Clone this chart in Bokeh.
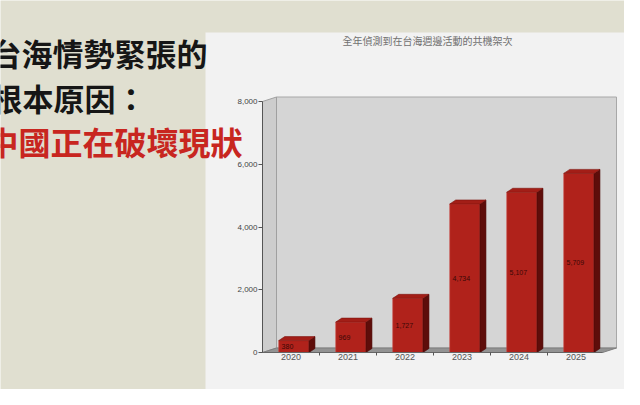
from bokeh.plotting import figure
from bokeh.models import Range1d, FixedTicker, LinearAxis, Label, BoxAnnotation
from bokeh.embed import file_html
from bokeh.resources import INLINE
from bokeh.core.properties import value

# ---- data ----
years = ["2020", "2021", "2022", "2023", "2024", "2025"]
sorties = [380, 969, 1727, 4734, 5107, 5709]
value_labels = ["380", "969", "1,727", "4,734", "5,107", "5,709"]
y_ticks = [0, 2000, 4000, 6000, 8000]
headline = ["台海情勢緊張的", "根本原因：", "中國正在破壞現狀"]
chart_title = "全年偵測到在台海週邊活動的共機架次"

# ---- geometry / style ----
W, H = 624, 389
AX0X, AX0Y = 262, 352               # canvas px of the chart origin
PXX = 57.0                          # px per category
PXY = 31.375 / 1000.0               # px per unit value
BEIGE = "#E0DFD0"
PANEL = "#F2F2F2"
RED = "#C8261F"

p = figure(width=W, height=H, output_backend="svg", toolbar_location=None,
           x_range=Range1d(-0.5 - AX0X / PXX, -0.5 + (W - AX0X) / PXX),
           y_range=Range1d(-(H - AX0Y) / PXY, AX0Y / PXY),
           x_axis_location=None, y_axis_location=None,
           min_border=0, border_fill_color=BEIGE, background_fill_color=BEIGE,
           outline_line_color=None)
p.xgrid.visible = False
p.ygrid.visible = False

# light slide panel
p.add_layout(BoxAnnotation(left=205, right=W + 10, bottom=-10, top=H - 32,
                           left_units="screen", right_units="screen",
                           bottom_units="screen", top_units="screen",
                           fill_color=PANEL, fill_alpha=1, line_color=None, level="underlay"))

# 3D walls
DX = 14 / PXX
DY = 4.5 / PXY
wall_right = (616 - AX0X) / PXX - 0.5
ymax = y_ticks[-1]
p.quad(left=[-0.5 + DX], right=[wall_right], bottom=[DY], top=[ymax + DY],
       fill_color="#D5D5D5", line_color="#A8A8A8", line_width=1)
p.patch([-0.5, -0.5 + DX, -0.5 + DX, -0.5], [0, DY, ymax + DY, ymax],
        fill_color="#CDCDCD", line_color="#A0A0A0", line_width=1)
p.patch([-0.5, wall_right - DX, wall_right, -0.5 + DX], [0, 0, DY, DY],
        fill_color="#939393", line_color="#7E7E7E", line_width=1)

# bars
BW, OFF = 0.53, 0.05
bdx, bdy = 6 / PXX, 4 / PXY
xs_c = list(range(len(years)))
lefts = [i + OFF - BW / 2 for i in xs_c]
rights = [i + OFF + BW / 2 for i in xs_c]
p.quad(left=lefts, right=rights, bottom=0, top=sorties,
       fill_color="#B0221B", line_color="#C8483F", line_width=0.6)
p.patches([[r, r + bdx, r + bdx, r] for r in rights],
          [[0, bdy, v + bdy, v] for v in sorties],
          fill_color="#5E0D0A", line_color="#4A0806", line_width=0.6)
p.patches([[l, r, r + bdx, l + bdx] for l, r in zip(lefts, rights)],
          [[v, v, v + bdy, v + bdy] for v in sorties],
          fill_color="#A31E17", line_color="#7E140F", line_width=0.6)
p.text(x=[l + 0.05 for l in lefts], y=[v / 2 for v in sorties], text=value_labels,
       text_align="left", text_baseline="middle", text_font_size="7px",
       text_font=value("Liberation Sans"), text_color="#3A0806")

# axes (drawn at the chart origin inside the slide)
yax = LinearAxis(fixed_location=-0.5, ticker=FixedTicker(ticks=[], minor_ticks=y_ticks),
                 bounds=(0, ymax), axis_line_color="#555555",
                 minor_tick_line_color="#555555", minor_tick_out=0, minor_tick_in=-4,
                 major_tick_out=0, major_tick_in=0, major_label_standoff=0)
p.add_layout(yax, "left")
xax = LinearAxis(fixed_location=0,
                 ticker=FixedTicker(ticks=[], minor_ticks=[i + 0.5 for i in xs_c[:-1]]),
                 bounds=(-0.5, wall_right - DX), axis_line_color="#666666",
                 minor_tick_line_color="#555555", minor_tick_out=0, minor_tick_in=-3,
                 major_tick_out=0, major_tick_in=0, major_label_standoff=0)
p.add_layout(xax, "below")

# tick labels
p.text(x=-0.5, y=y_ticks, text=[f"{t:,}" for t in y_ticks], x_offset=-5,
       text_align="right", text_baseline="middle", text_font_size="8px",
       text_font=value("Liberation Sans"), text_color="#444444")
p.text(x=xs_c, y=0, text=years, y_offset=1,
       text_align="center", text_baseline="top", text_font_size="9px",
       text_font=value("Liberation Sans"), text_color="#555555")

# chart title
p.add_layout(Label(x=427, y=H - 40, x_units="screen", y_units="screen", text=chart_title,
                   text_align="center", text_baseline="middle", text_font_size="10px",
                   text_font="Noto Sans CJK TC", text_color="#707070"))

# headline on the left
hx = [-10, -9, -14]
hy = [H - 52, H - 97, H - 140]
hs = ["31px", "31px", "32px"]
hc = ["#161616", "#161616", RED]
for t, x, y, s, c in zip(headline, hx, hy, hs, hc):
    p.add_layout(Label(x=x, y=y, x_units="screen", y_units="screen", text=t,
                       text_align="left", text_baseline="middle", text_font_size=s,
                       text_font="Noto Sans CJK TC", text_font_style="bold", text_color=c))

open("out.html", "w").write(file_html(p, INLINE))
